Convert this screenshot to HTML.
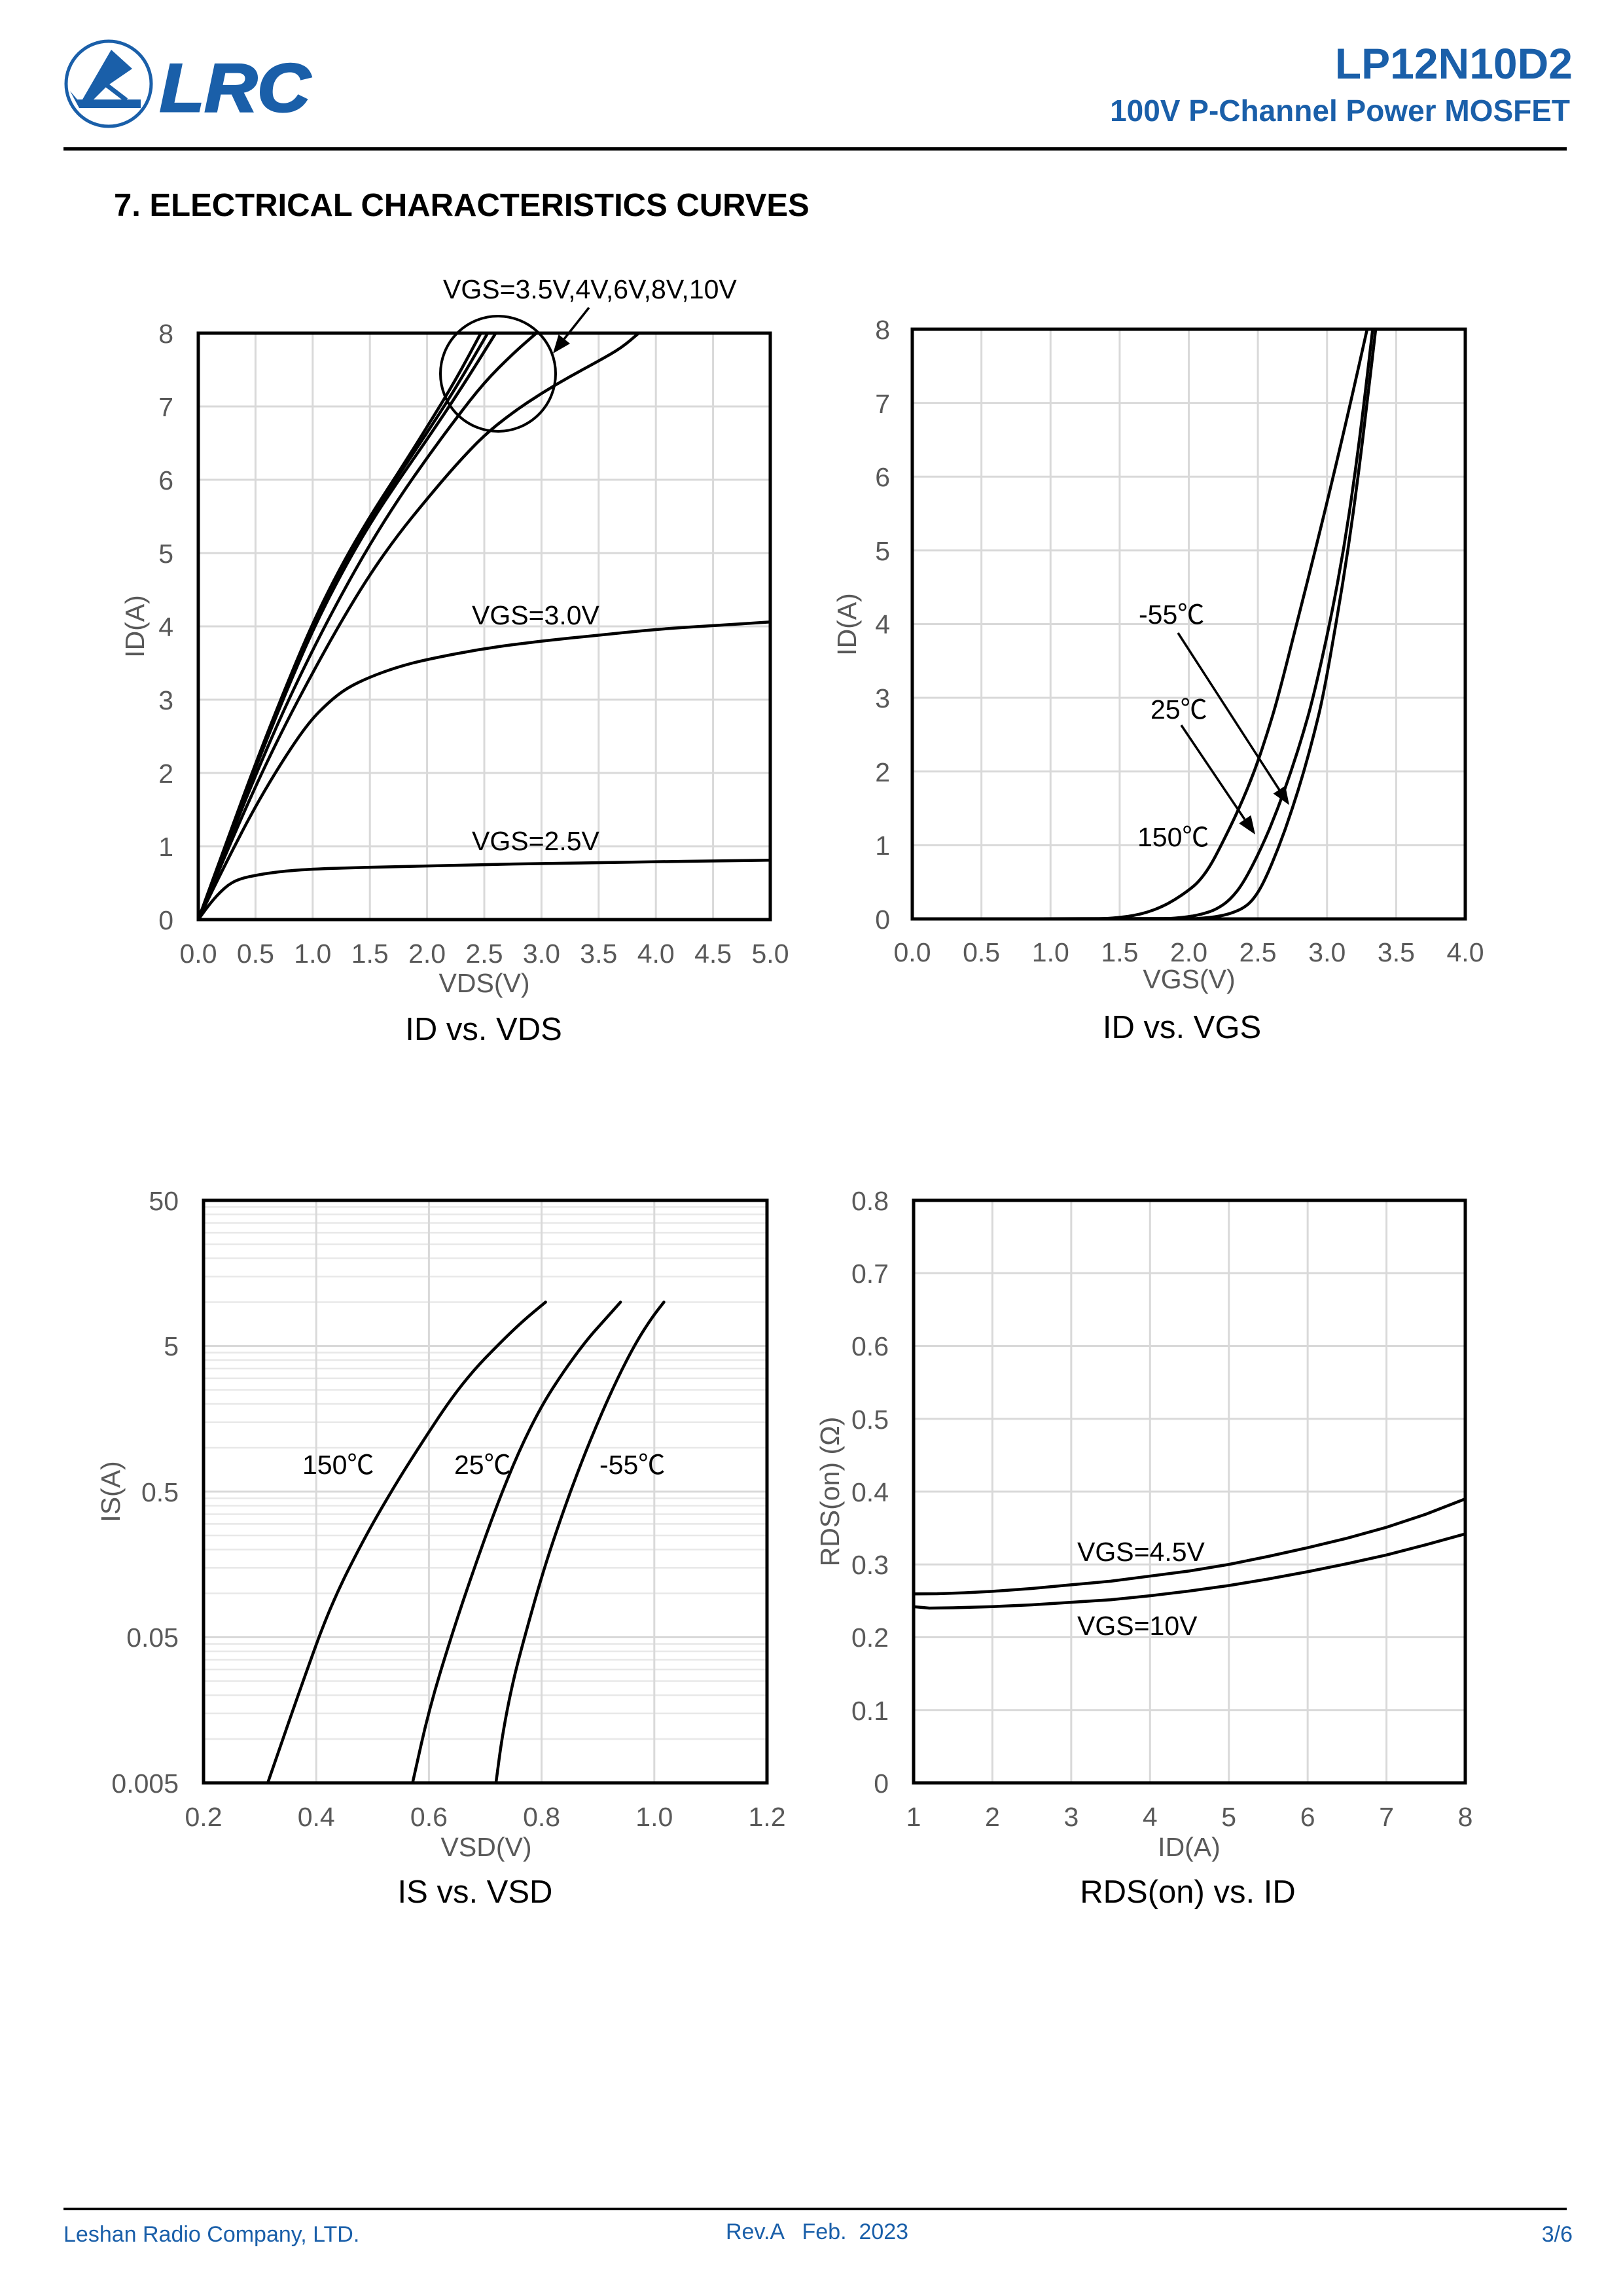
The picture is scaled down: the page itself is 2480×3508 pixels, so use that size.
<!DOCTYPE html>
<html>
<head>
<meta charset="utf-8">
<style>
html,body{margin:0;padding:0;background:#fff;}
svg{display:block;}
text{font-family:"Liberation Sans","Noto Sans CJK SC","DejaVu Sans",sans-serif;}
.tk{font-size:41px;fill:#595959;}
.lb{font-size:41px;fill:#000;}
.tt{font-size:49px;fill:#000;}
.g{fill:none;stroke:#d9d9d9;stroke-width:3;}
.gm{fill:none;stroke:#e8e8e8;stroke-width:2.5;}
.c{fill:none;stroke:#000;stroke-width:4.5;stroke-linejoin:round;stroke-linecap:round;}
.bx{fill:none;stroke:#000;stroke-width:5;}
.blue{fill:#1a5fa9;}
</style>
</head>
<body>
<svg width="2480" height="3508" viewBox="0 0 2480 3508" xmlns="http://www.w3.org/2000/svg">
<rect x="0" y="0" width="2480" height="3508" fill="#fff"/>

<!-- Logo -->
<circle cx="166" cy="128" r="65" fill="none" stroke="#1a5fa9" stroke-width="5"/>
<polygon class="blue" points="170,76 202,105 164,131 143,152 126,152"/>
<line x1="163" y1="130" x2="193" y2="153" stroke="#1a5fa9" stroke-width="7"/>
<polygon class="blue" points="107,139 118,152 215,152 215,165 121,165"/>
<text x="244" y="170" font-size="104" font-weight="bold" font-style="italic" class="blue" stroke="#1a5fa9" stroke-width="3" textLength="230" lengthAdjust="spacingAndGlyphs">LRC</text>

<!-- Header -->
<text x="2403" y="120" text-anchor="end" font-size="66" font-weight="bold" class="blue">LP12N10D2</text>
<text x="2399" y="185" text-anchor="end" font-size="46" font-weight="bold" class="blue">100V P-Channel Power MOSFET</text>
<rect x="97" y="225" width="2297" height="5" fill="#000"/>
<text x="174" y="330" font-size="49" font-weight="bold" fill="#000">7. ELECTRICAL CHARACTERISTICS CURVES</text>

<!-- ================= Chart 1: ID vs VDS ================= -->
<g transform="translate(303 1405) scale(174.8 -112)">
<path class="g" vector-effect="non-scaling-stroke" d="M0.5 0V8M1 0V8M1.5 0V8M2 0V8M2.5 0V8M3 0V8M3.5 0V8M4 0V8M4.5 0V8M0 1H5M0 2H5M0 3H5M0 4H5M0 5H5M0 6H5M0 7H5"/>
<path class="c" vector-effect="non-scaling-stroke" d="M0 0 L0.0325 0.07 Q0.065 0.14 0.0975 0.205 Q0.13 0.27 0.1625 0.325 Q0.195 0.38 0.2275 0.425 Q0.26 0.47 0.2925 0.5 Q0.325 0.53 0.3625 0.55 Q0.4 0.57 0.445 0.585 Q0.49 0.6 0.545 0.615 Q0.6 0.63 0.675 0.645 Q0.75 0.66 0.875 0.675 Q1 0.69 1.25 0.7025 Q1.5 0.715 1.75 0.7225 Q2 0.73 2.25 0.74 Q2.5 0.75 2.75 0.7575 Q3 0.765 3.25 0.77 Q3.5 0.775 3.75 0.7825 Q4 0.79 4.25 0.795 Q4.5 0.8 4.75 0.805 L5 0.81"/>
<path class="c" vector-effect="non-scaling-stroke" d="M0 0 L0.125 0.4 Q0.25 0.8 0.375 1.175 Q0.5 1.55 0.625 1.875 Q0.75 2.2 0.86 2.45 Q0.97 2.7 1.06 2.84 Q1.15 2.98 1.225 3.07 Q1.3 3.16 1.4 3.235 Q1.5 3.31 1.625 3.38 Q1.75 3.45 1.875 3.5 Q2 3.55 2.25 3.625 Q2.5 3.7 2.75 3.75 Q3 3.8 3.25 3.84 Q3.5 3.88 3.75 3.92 Q4 3.96 4.25 3.985 Q4.5 4.01 4.75 4.035 L5 4.06"/>
<path class="c" vector-effect="non-scaling-stroke" d="M0 0 L0.125 0.465 Q0.25 0.93 0.375 1.375 Q0.5 1.82 0.625 2.225 Q0.75 2.63 0.875 3 Q1 3.37 1.125 3.72 Q1.25 4.07 1.375 4.39 Q1.5 4.71 1.625 4.985 Q1.75 5.26 1.875 5.5 Q2 5.74 2.125 5.97 Q2.25 6.2 2.375 6.405 Q2.5 6.61 2.625 6.765 Q2.75 6.92 2.875 7.05 Q3 7.18 3.125 7.295 Q3.25 7.41 3.375 7.515 Q3.5 7.62 3.6 7.71 Q3.7 7.8 3.775 7.9 L3.85 8"/>
<path class="c" vector-effect="non-scaling-stroke" d="M0 0 L0.125 0.5 Q0.25 1 0.375 1.485 Q0.5 1.97 0.625 2.42 Q0.75 2.87 0.875 3.275 Q1 3.68 1.125 4.055 Q1.25 4.43 1.375 4.775 Q1.5 5.12 1.625 5.43 Q1.75 5.74 1.875 6.02 Q2 6.3 2.125 6.565 Q2.25 6.83 2.375 7.08 Q2.5 7.33 2.625 7.525 Q2.75 7.72 2.8525 7.86 L2.955 8"/>
<path class="c" vector-effect="non-scaling-stroke" d="M0 0 L0.125 0.525 Q0.25 1.05 0.375 1.56 Q0.5 2.07 0.625 2.555 Q0.75 3.04 0.875 3.495 Q1 3.95 1.125 4.335 Q1.25 4.72 1.375 5.06 Q1.5 5.4 1.625 5.695 Q1.75 5.99 1.875 6.27 Q2 6.55 2.15 6.9 Q2.3 7.25 2.45 7.625 L2.6 8"/>
<path class="c" vector-effect="non-scaling-stroke" d="M0 0 L0.125 0.53 Q0.25 1.06 0.375 1.58 Q0.5 2.1 0.625 2.59 Q0.75 3.08 0.875 3.54 Q1 4 1.125 4.385 Q1.25 4.77 1.375 5.11 Q1.5 5.45 1.625 5.755 Q1.75 6.06 1.875 6.35 Q2 6.64 2.125 6.945 Q2.25 7.25 2.39 7.625 L2.53 8"/>
<path class="c" vector-effect="non-scaling-stroke" d="M0 0 L0.125 0.535 Q0.25 1.07 0.375 1.6 Q0.5 2.13 0.625 2.625 Q0.75 3.12 0.875 3.585 Q1 4.05 1.125 4.44 Q1.25 4.83 1.375 5.165 Q1.5 5.5 1.625 5.8 Q1.75 6.1 1.875 6.41 Q2 6.72 2.125 7.04 Q2.25 7.36 2.36 7.68 L2.47 8"/>
</g>
<rect class="bx" x="303" y="509" width="874" height="896"/>
<circle cx="761" cy="571" r="88" fill="none" stroke="#000" stroke-width="4"/>
<line x1="900" y1="470" x2="862" y2="518" stroke="#000" stroke-width="3.5"/>
<polygon points="845,540 871,525 853.6,511" fill="#000"/>
<text class="lb" x="677" y="456">VGS=3.5V,4V,6V,8V,10V</text>
<text class="lb" x="721" y="954">VGS=3.0V</text>
<text class="lb" x="721" y="1299">VGS=2.5V</text>
<g class="tk" text-anchor="end">
<text x="265" y="1420">0</text><text x="265" y="1308">1</text><text x="265" y="1196">2</text><text x="265" y="1084">3</text><text x="265" y="972">4</text><text x="265" y="860">5</text><text x="265" y="748">6</text><text x="265" y="636">7</text><text x="265" y="524">8</text>
</g>
<g class="tk" text-anchor="middle">
<text x="303" y="1471">0.0</text><text x="390.4" y="1471">0.5</text><text x="477.8" y="1471">1.0</text><text x="565.2" y="1471">1.5</text><text x="652.6" y="1471">2.0</text><text x="740" y="1471">2.5</text><text x="827.4" y="1471">3.0</text><text x="914.8" y="1471">3.5</text><text x="1002.2" y="1471">4.0</text><text x="1089.6" y="1471">4.5</text><text x="1177" y="1471">5.0</text>
<text x="740" y="1516">VDS(V)</text>
<text transform="translate(220 957) rotate(-90)" x="0" y="0">ID(A)</text>
</g>
<text class="tt" x="739" y="1589" text-anchor="middle">ID vs. VDS</text>

<!-- ================= Chart 2: ID vs VGS ================= -->
<g transform="translate(1394 1404) scale(211.25 -112.625)">
<path class="g" vector-effect="non-scaling-stroke" d="M0.5 0V8M1 0V8M1.5 0V8M2 0V8M2.5 0V8M3 0V8M3.5 0V8M0 1H4M0 2H4M0 3H4M0 4H4M0 5H4M0 6H4M0 7H4"/>
<path class="c" vector-effect="non-scaling-stroke" d="M0 0 L1.35 0.0025 Q1.4 0.005 1.45 0.0125 Q1.5 0.02 1.55 0.0325 Q1.6 0.045 1.65 0.0675 Q1.7 0.09 1.75 0.125 Q1.8 0.16 1.85 0.21 Q1.9 0.26 1.95 0.325 Q2 0.39 2.035 0.445 Q2.07 0.5 2.11 0.6 Q2.15 0.7 2.1925 0.85 Q2.235 1 2.3 1.25 Q2.365 1.5 2.42 1.75 Q2.475 2 2.52 2.25 Q2.565 2.5 2.605 2.75 Q2.645 3 2.7125 3.5 Q2.78 4 2.8475 4.5 Q2.915 5 2.98 5.5 Q3.045 6 3.1075 6.5 Q3.17 7 3.23 7.5 L3.29 8"/>
<path class="c" vector-effect="non-scaling-stroke" d="M0 0 L1.85 0.005 Q1.9 0.01 1.95 0.02 Q2 0.03 2.05 0.0475 Q2.1 0.065 2.15 0.0975 Q2.2 0.13 2.25 0.195 Q2.3 0.26 2.35 0.38 Q2.4 0.5 2.4675 0.75 Q2.535 1 2.59 1.25 Q2.645 1.5 2.6925 1.75 Q2.74 2 2.7825 2.25 Q2.825 2.5 2.8625 2.75 Q2.9 3 2.96 3.5 Q3.02 4 3.07 4.5 Q3.12 5 3.16 5.5 Q3.2 6 3.234 6.5 Q3.268 7 3.299 7.5 L3.33 8"/>
<path class="c" vector-effect="non-scaling-stroke" d="M0 0 L2.05 0.005 Q2.1 0.01 2.15 0.02 Q2.2 0.03 2.25 0.05 Q2.3 0.07 2.35 0.11 Q2.4 0.15 2.435 0.21 Q2.47 0.27 2.5075 0.385 Q2.545 0.5 2.601 0.75 Q2.657 1 2.7035 1.25 Q2.75 1.5 2.7915 1.75 Q2.833 2 2.869 2.25 Q2.905 2.5 2.9375 2.75 Q2.97 3 3.0175 3.5 Q3.065 4 3.1085 4.5 Q3.152 5 3.1885 5.5 Q3.225 6 3.2575 6.5 Q3.29 7 3.321 7.5 L3.352 8"/>
</g>
<rect class="bx" x="1394" y="503" width="845" height="901"/>
<text class="lb" x="1740" y="953">-55℃</text>
<text class="lb" x="1758" y="1098">25℃</text>
<text class="lb" x="1738" y="1293">150℃</text>
<line x1="1800" y1="967" x2="1955" y2="1207" stroke="#000" stroke-width="3.5"/>
<polygon points="1970,1230 1964,1200.5 1945.6,1212.5" fill="#000"/>
<line x1="1805" y1="1108" x2="1902" y2="1252" stroke="#000" stroke-width="3.5"/>
<polygon points="1918,1275 1911.4,1245.6 1893.2,1258" fill="#000"/>
<g class="tk" text-anchor="end">
<text x="1360" y="1419">0</text><text x="1360" y="1306">1</text><text x="1360" y="1194">2</text><text x="1360" y="1081">3</text><text x="1360" y="968">4</text><text x="1360" y="856">5</text><text x="1360" y="743">6</text><text x="1360" y="631">7</text><text x="1360" y="518">8</text>
</g>
<g class="tk" text-anchor="middle">
<text x="1394" y="1469">0.0</text><text x="1499.6" y="1469">0.5</text><text x="1605.3" y="1469">1.0</text><text x="1710.9" y="1469">1.5</text><text x="1816.5" y="1469">2.0</text><text x="1922.1" y="1469">2.5</text><text x="2027.8" y="1469">3.0</text><text x="2133.4" y="1469">3.5</text><text x="2239" y="1469">4.0</text>
<text x="1817" y="1510">VGS(V)</text>
<text transform="translate(1308 954) rotate(-90)" x="0" y="0">ID(A)</text>
</g>
<text class="tt" x="1806" y="1586" text-anchor="middle">ID vs. VGS</text>

<!-- ================= Chart 3: IS vs VSD (log) ================= -->
<g transform="translate(138.8 2212) scale(861 -222.5)">
<path class="gm" vector-effect="non-scaling-stroke" d="M0.2 -2H1.2M0.2 -1.82391H1.2M0.2 -1.69897H1.2M0.2 -1.60206H1.2M0.2 -1.52288H1.2M0.2 -1.45593H1.2M0.2 -1.39794H1.2M0.2 -1.34679H1.2M0.2 -1H1.2M0.2 -0.82391H1.2M0.2 -0.69897H1.2M0.2 -0.60206H1.2M0.2 -0.52288H1.2M0.2 -0.45593H1.2M0.2 -0.39794H1.2M0.2 -0.34679H1.2M0.2 0H1.2M0.2 0.17609H1.2M0.2 0.30103H1.2M0.2 0.39794H1.2M0.2 0.47712H1.2M0.2 0.54407H1.2M0.2 0.60206H1.2M0.2 0.65321H1.2M0.2 1H1.2M0.2 1.17609H1.2M0.2 1.30103H1.2M0.2 1.39794H1.2M0.2 1.47712H1.2M0.2 1.54407H1.2M0.2 1.60206H1.2M0.2 1.65321H1.2"/>
<path class="g" vector-effect="non-scaling-stroke" d="M0.2 -1.30103H1.2M0.2 -0.30103H1.2M0.2 0.69897H1.2M0.4 -2.30103V1.69897M0.6 -2.30103V1.69897M0.8 -2.30103V1.69897M1.0 -2.30103V1.69897"/>
<path class="c" vector-effect="non-scaling-stroke" d="M0.314 -2.301 L0.345 -1.954 Q0.376 -1.607 0.4005 -1.347 Q0.425 -1.087 0.454 -0.8615 Q0.483 -0.636 0.5115 -0.445 Q0.54 -0.254 0.565 -0.102 Q0.59 0.05 0.6145 0.193 Q0.639 0.336 0.6595 0.4355 Q0.68 0.535 0.7005 0.6175 Q0.721 0.7 0.743 0.7825 Q0.765 0.865 0.786 0.9325 L0.807 1"/>
<path class="c" vector-effect="non-scaling-stroke" d="M0.571 -2.301 L0.5855 -2.0505 Q0.6 -1.8 0.62 -1.545 Q0.64 -1.29 0.66 -1.06 Q0.68 -0.83 0.7 -0.615 Q0.72 -0.4 0.74 -0.21 Q0.76 -0.02 0.78 0.135 Q0.8 0.29 0.82 0.41 Q0.84 0.53 0.86 0.635 Q0.88 0.74 0.895 0.805 Q0.91 0.87 0.925 0.935 L0.94 1"/>
<path class="c" vector-effect="non-scaling-stroke" d="M0.719 -2.301 L0.7245 -2.1405 Q0.73 -1.98 0.739 -1.8 Q0.748 -1.62 0.759 -1.4575 Q0.77 -1.295 0.7865 -1.0695 Q0.803 -0.844 0.8195 -0.653 Q0.836 -0.462 0.8525 -0.2885 Q0.869 -0.115 0.8855 0.041 Q0.902 0.197 0.9185 0.3385 Q0.935 0.48 0.951 0.6 Q0.967 0.72 0.981 0.805 Q0.995 0.89 1.006 0.945 L1.017 1"/>
</g>
<rect class="bx" x="311" y="1834" width="861" height="890"/>
<text class="lb" x="462" y="2252">150℃</text>
<text class="lb" x="694" y="2252">25℃</text>
<text class="lb" x="916" y="2252">-55℃</text>
<g class="tk" text-anchor="end">
<text x="273" y="2739">0.005</text><text x="273" y="2516">0.05</text><text x="273" y="2294">0.5</text><text x="273" y="2071">5</text><text x="273" y="1849">50</text>
</g>
<g class="tk" text-anchor="middle">
<text x="311" y="2790">0.2</text><text x="483.2" y="2790">0.4</text><text x="655.4" y="2790">0.6</text><text x="827.6" y="2790">0.8</text><text x="999.8" y="2790">1.0</text><text x="1172" y="2790">1.2</text>
<text x="743" y="2836">VSD(V)</text>
<text transform="translate(183 2279) rotate(-90)" x="0" y="0">IS(A)</text>
</g>
<text class="tt" x="726" y="2907" text-anchor="middle">IS vs. VSD</text>

<!-- ================= Chart 4: RDS(on) vs ID ================= -->
<g transform="translate(1275.57 2724) scale(120.43 -1112.5)">
<path class="g" vector-effect="non-scaling-stroke" d="M2 0V0.8M3 0V0.8M4 0V0.8M5 0V0.8M6 0V0.8M7 0V0.8M1 0.1H8M1 0.2H8M1 0.3H8M1 0.4H8M1 0.5H8M1 0.6H8M1 0.7H8"/>
<polyline class="c" vector-effect="non-scaling-stroke" points="1,0.2595 1.3,0.2598 1.64,0.261 2,0.263 2.5,0.267 3,0.272 3.5,0.277 4,0.284 4.5,0.291 5,0.300 5.5,0.311 6,0.323 6.5,0.336 7,0.351 7.5,0.369 8,0.390"/>
<polyline class="c" vector-effect="non-scaling-stroke" points="1,0.242 1.2,0.240 1.5,0.2405 2,0.242 2.5,0.2445 3,0.248 3.5,0.2515 4,0.257 4.5,0.2635 5,0.271 5.5,0.280 6,0.290 6.5,0.301 7,0.313 7.5,0.327 8,0.342"/>
</g>
<rect class="bx" x="1396" y="1834" width="843" height="890"/>
<text class="lb" x="1646" y="2385">VGS=4.5V</text>
<text class="lb" x="1646" y="2498">VGS=10V</text>
<g class="tk" text-anchor="end">
<text x="1358" y="2739">0</text><text x="1358" y="2628">0.1</text><text x="1358" y="2516">0.2</text><text x="1358" y="2405">0.3</text><text x="1358" y="2294">0.4</text><text x="1358" y="2183">0.5</text><text x="1358" y="2071">0.6</text><text x="1358" y="1960">0.7</text><text x="1358" y="1849">0.8</text>
</g>
<g class="tk" text-anchor="middle">
<text x="1396" y="2790">1</text><text x="1516.4" y="2790">2</text><text x="1636.9" y="2790">3</text><text x="1757.3" y="2790">4</text><text x="1877.7" y="2790">5</text><text x="1998.1" y="2790">6</text><text x="2118.6" y="2790">7</text><text x="2239" y="2790">8</text>
<text x="1817" y="2836">ID(A)</text>
<text transform="translate(1282 2279) rotate(-90)" x="0" y="0">RDS(on) (Ω)</text>
</g>
<text class="tt" x="1815" y="2907" text-anchor="middle">RDS(on) vs. ID</text>

<!-- Footer -->
<rect x="97" y="3373" width="2297" height="4" fill="#000"/>
<text x="97" y="3425" font-size="34" class="blue">Leshan Radio Company, LTD.</text>
<text x="1109" y="3421" font-size="34" class="blue" xml:space="preserve" style="white-space:pre">Rev.A   Feb.  2023</text>
<text x="2403" y="3425" font-size="34" class="blue" text-anchor="end">3/6</text>
</svg>
</body>
</html>
